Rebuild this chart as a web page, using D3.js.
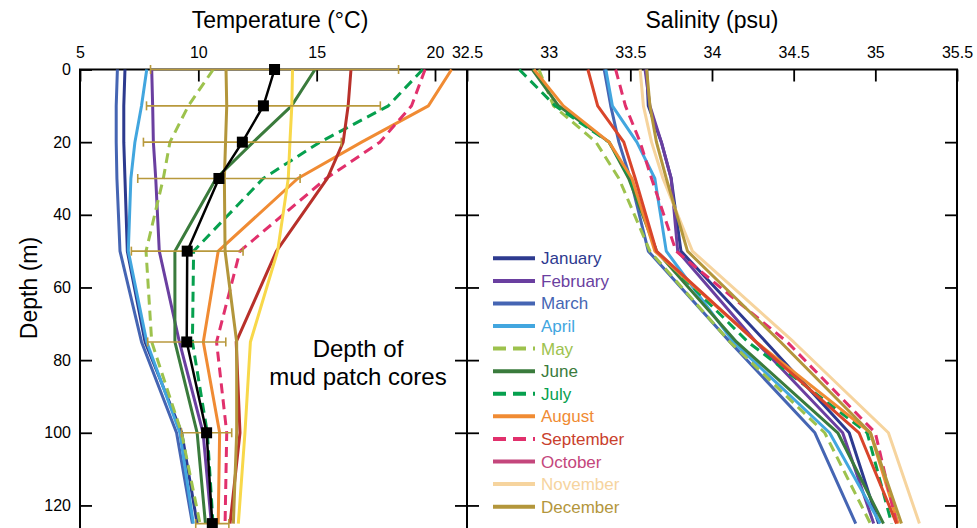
<!DOCTYPE html>
<html><head><meta charset="utf-8">
<script src="https://cdn.jsdelivr.net/npm/d3@7"></script>
<style>
body{margin:0;background:#fff;}
svg{display:block;font-family:"Liberation Sans",Arial,Helvetica,sans-serif;}
</style>
</head><body>
<svg id="chart" width="977" height="528"></svg>
<script>
// ---------- DATA ----------
const months = ["January","February","March","April","May","June","July","August","September","October","November","December"];
const depths = [0, 10, 20, 30, 50, 75, 100, 125];

// Temperature (°C) per month at each depth
const temperature = [
  [6.90, 6.85, 6.85, 6.90, 7.00, 7.75, 9.30, 9.95],     // January
  [8.03, 8.07, 8.10, 8.20, 8.35, 9.20, 10.20, 10.55],   // February
  [6.58, 6.53, 6.53, 6.56, 6.69, 7.60, 9.08, 9.75],     // March
  [7.82, 7.60, 7.32, 7.15, 7.04, 7.82, 9.22, 9.79],     // April
  [10.63, 9.58, 8.80, 8.52, 7.79, 8.03, 9.29, 10.07],   // May
  [14.93, 13.94, 12.32, 10.75, 9.01, 9.01, 9.95, 10.30],// June
  [19.48, 18.03, 15.14, 12.74, 9.80, 9.75, 10.38, 10.62],// July
  [20.70, 19.72, 16.90, 14.20, 10.84, 10.21, 10.90, 10.84],// August
  [19.58, 19.01, 17.67, 15.40, 11.76, 10.77, 11.20, 11.13],// September
  [16.45, 16.33, 16.12, 15.45, 13.30, 11.60, 11.76, 11.34],// October
  [13.98, 13.95, 13.87, 13.80, 13.35, 12.20, 11.97, 11.69],// November
  [11.17, 11.20, 11.15, 11.10, 11.13, 11.62, 11.62, 11.48] // December
];

// Mean temperature of mud patch cores and its spread
const meanTemp = [13.22, 12.75, 11.86, 10.87, 9.53, 9.51, 10.35, 10.59];
const sdTemp   = [5.24, 4.94, 4.18, 3.43, 2.36, 1.65, 1.06, 0.70];

// Salinity (psu) per month at each depth
const salinity = [
  [33.60, 33.61, 33.69, 33.75, 33.81, 34.33, 34.84, 35.02], // January
  [33.59, 33.62, 33.69, 33.75, 33.79, 34.27, 34.80, 34.99], // February
  [33.34, 33.38, 33.43, 33.50, 33.61, 34.11, 34.63, 34.88], // March
  [33.35, 33.39, 33.54, 33.65, 33.72, 34.13, 34.72, 35.03], // April
  [32.94, 33.03, 33.29, 33.43, 33.62, 34.11, 34.69, 34.97], // May
  [32.90, 33.06, 33.37, 33.49, 33.66, 34.15, 34.77, 35.05], // June
  [32.82, 33.04, 33.37, 33.50, 33.66, 34.22, 34.95, 35.10], // July
  [32.91, 33.09, 33.37, 33.51, 33.65, 34.27, 34.97, 35.14], // August
  [33.41, 33.47, 33.56, 33.63, 33.78, 34.46, 35.00, 35.13], // September
  [33.24, 33.30, 33.46, 33.53, 33.66, 34.27, 34.90, 35.13], // October
  [33.56, 33.58, 33.63, 33.70, 33.88, 34.50, 35.08, 35.27], // November
  [33.60, 33.62, 33.66, 33.72, 33.85, 34.42, 34.97, 35.16]  // December
];

const tempTicks = [5, 10, 15, 20];
const salTicks = [32.5, 33, 33.5, 34, 34.5, 35, 35.5];
const depthTicks = [0, 20, 40, 60, 80, 100, 120];

// ---------- STYLES ----------
const tempColors = ["#2d3a8f","#6a3fa0","#4565b3","#42a6df","#9dc24d","#3a7b3c","#06a04e","#f08b33","#e1306c","#b8302a","#f8d84a","#b3963b"];
const salColors  = ["#2d3a8f","#6a3fa0","#4565b3","#42a6df","#9dc24d","#3a7b3c","#06a04e","#f08b33","#e1306c","#d9452b","#f6d49e","#b3963b"];
const legendSwatch = ["#2d3a8f","#6a3fa0","#4565b3","#42a6df","#9dc24d","#3a7b3c","#06a04e","#f08b33","#e1306c","#c4467c","#f6d49e","#b3963b"];
const legendText   = ["#2d3a8f","#6a3fa0","#4565b3","#42a6df","#9dc24d","#3a7b3c","#06a04e","#f08b33","#c9402c","#c4467c","#f6d49e","#b3963b"];
const dashed = [false,false,false,false,true,false,true,false,true,false,false,false];
const errColor = "#b8993c";

// ---------- SCALES ----------
const svg = d3.select("#chart");
const yTop = 69.5, yBot = 540;
const y = d3.scaleLinear().domain([0, 125]).range([yTop, 523.6]);
const xT = d3.scaleLinear().domain([5, 20]).range([80, 435]);
const xS = d3.scaleLinear().domain([32.5, 35.5]).range([467, 957]);
const leftX = 80, midX = 467, rightX = 957;

// ---------- FRAME ----------
const frame = svg.append("g").attr("stroke", "#000").attr("stroke-width", 2).attr("fill", "none");
frame.append("line").attr("x1", leftX - 1).attr("x2", rightX + 1).attr("y1", yTop).attr("y2", yTop);
[leftX, midX, rightX].forEach(x => frame.append("line").attr("x1", x).attr("x2", x).attr("y1", yTop).attr("y2", yBot));

// ---------- AXES ----------
function styleAxis(g) {
  g.select(".domain").remove();
  g.selectAll(".tick line").attr("stroke", "#000").attr("stroke-width", 1.8);
  g.selectAll(".tick text").attr("fill", "#000").attr("font-size", 16)
    .attr("font-family", '"Liberation Sans",Arial,Helvetica,sans-serif');
}
svg.append("g").attr("transform", `translate(0,${yTop})`)
  .call(d3.axisTop(xT).tickValues(tempTicks).tickFormat(d3.format("d")).tickSizeInner(-12).tickSizeOuter(0).tickPadding(12))
  .call(styleAxis);
svg.append("g").attr("transform", `translate(0,${yTop})`)
  .call(d3.axisTop(xS).tickValues(salTicks).tickFormat(d => String(d)).tickSizeInner(-12).tickSizeOuter(0).tickPadding(12))
  .call(styleAxis);
svg.append("g").attr("transform", `translate(${leftX},0)`)
  .call(d3.axisLeft(y).tickValues(depthTicks).tickSizeInner(-12).tickSizeOuter(0).tickPadding(9))
  .call(styleAxis);
svg.append("g").attr("transform", `translate(${midX},0)`)
  .call(d3.axisLeft(y).tickValues(depthTicks.slice(1)).tickSizeInner(12).tickSizeOuter(0).tickFormat(""))
  .call(styleAxis);
svg.append("g").attr("transform", `translate(${midX},0)`)
  .call(d3.axisRight(y).tickValues(depthTicks.slice(1)).tickSizeInner(12).tickSizeOuter(0).tickFormat(""))
  .call(styleAxis);
svg.append("g").attr("transform", `translate(${rightX},0)`)
  .call(d3.axisRight(y).tickValues(depthTicks.slice(1)).tickSizeInner(-12).tickSizeOuter(0).tickFormat(""))
  .call(styleAxis);

// ---------- MONTH LINES ----------
const gT = svg.append("g");
temperature.forEach((vals, i) => {
  const line = d3.line().x(d => xT(d[0])).y(d => y(d[1]));
  gT.append("path")
    .attr("d", line(vals.map((v, k) => [v, depths[k]])))
    .attr("fill", "none")
    .attr("stroke", tempColors[i])
    .attr("stroke-width", 3)
    .attr("stroke-linejoin", "round")
    .attr("stroke-dasharray", dashed[i] ? "10,6" : null);
});

const gS = svg.append("g");
salinity.forEach((vals, i) => {
  const line = d3.line().x(d => xS(d[0])).y(d => y(d[1]));
  gS.append("path")
    .attr("d", line(vals.map((v, k) => [v, depths[k]])))
    .attr("fill", "none")
    .attr("stroke", salColors[i])
    .attr("stroke-width", 3)
    .attr("stroke-linejoin", "round")
    .attr("stroke-dasharray", dashed[i] ? "10,6" : null);
});

// ---------- ERROR BARS + MEAN ----------
const gE = svg.append("g").attr("stroke", errColor).attr("stroke-width", 1.6);
meanTemp.forEach((m, k) => {
  const yy = y(depths[k]);
  const x0 = xT(m - sdTemp[k]), x1 = xT(m + sdTemp[k]);
  gE.append("line").attr("x1", x0).attr("x2", x1).attr("y1", yy).attr("y2", yy);
  gE.append("line").attr("x1", x0).attr("x2", x0).attr("y1", yy - 4.5).attr("y2", yy + 4.5);
  gE.append("line").attr("x1", x1).attr("x2", x1).attr("y1", yy - 4.5).attr("y2", yy + 4.5);
});
svg.append("path")
  .attr("d", d3.line().x(d => xT(d[0])).y(d => y(d[1]))(meanTemp.map((v, k) => [v, depths[k]])))
  .attr("fill", "none").attr("stroke", "#000").attr("stroke-width", 2.5);
svg.append("g").selectAll("rect").data(meanTemp).join("rect")
  .attr("x", (d) => xT(d) - 5.5)
  .attr("y", (d, k) => y(depths[k]) - 5.5)
  .attr("width", 11).attr("height", 11).attr("fill", "#000");

// ---------- TITLES ----------
svg.append("text").attr("x", 280).attr("y", 28).attr("text-anchor", "middle")
  .attr("font-size", 23).attr("fill", "#000").text("Temperature (°C)");
svg.append("text").attr("x", 712).attr("y", 28).attr("text-anchor", "middle")
  .attr("font-size", 23).attr("fill", "#000").text("Salinity (psu)");
svg.append("text").attr("transform", "translate(37,288) rotate(-90)").attr("text-anchor", "middle")
  .attr("font-size", 23).attr("fill", "#000").text("Depth (m)");
svg.append("text").attr("x", 358).attr("y", 357).attr("text-anchor", "middle")
  .attr("font-size", 24).attr("fill", "#000").text("Depth of");
svg.append("text").attr("x", 358).attr("y", 385).attr("text-anchor", "middle")
  .attr("font-size", 24).attr("fill", "#000").text("mud patch cores");

// ---------- LEGEND ----------
const lg = svg.append("g");
months.forEach((m, i) => {
  const yy = 258.3 + i * 22.58;
  lg.append("line").attr("x1", 493).attr("x2", 535).attr("y1", yy).attr("y2", yy)
    .attr("stroke", legendSwatch[i]).attr("stroke-width", 4)
    .attr("stroke-dasharray", dashed[i] ? "13,7" : null);
  lg.append("text").attr("x", 541).attr("y", yy + 6).attr("font-size", 17)
    .attr("fill", legendText[i]).text(m);
});
</script>
</body></html>
